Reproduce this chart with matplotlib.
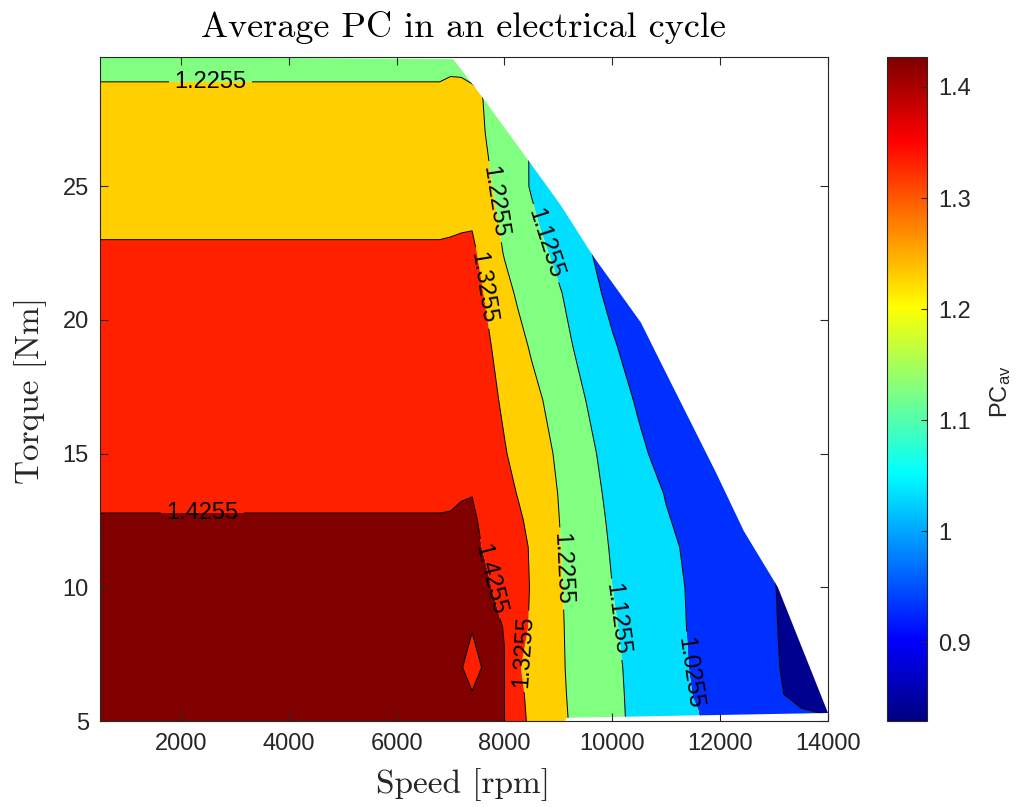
import numpy as np
import matplotlib
matplotlib.use("Agg")
import matplotlib.pyplot as plt
from matplotlib.colors import ListedColormap, Normalize
from matplotlib.patches import Polygon
from matplotlib.cm import ScalarMappable

plt.rcParams['font.family'] = ['Liberation Sans', 'DejaVu Sans']
plt.rcParams['mathtext.fontset'] = 'custom'
plt.rcParams['mathtext.rm'] = 'Liberation Sans'
plt.rcParams['mathtext.it'] = 'Liberation Sans:italic'

# ---- measured map: average PC over speed (columns) and torque (rows) ----
speeds = [500, 6800, 7000, 7200, 7400, 7600, 7800, 8000, 8250, 8500, 8750, 9000,
          9250, 9500, 10000, 10500, 11000, 11500, 12000, 13000, 13500, 14000, 14500]
torques = [5, 6, 7, 8.5, 10, 11.5, 12.5, 13.5, 15, 17, 19, 21, 22.5, 23.5, 25, 27,
           28.5, 29.5, 30.5]
pc_avg = [
    # T = 5
    [1.427, 1.427, 1.427, 1.427, 1.427, 1.427, 1.4262, 1.4257, 1.3576, 1.3063, 1.2762, 1.2462,
     1.218, 1.1939, 1.1457, 1.1046, 1.0687, 1.0327, 1.0129, 0.975, 0.945, 0.94, 0.935],
    # T = 6
    [1.427, 1.427, 1.427, 1.427, 1.427, 1.427, 1.4263, 1.4257, 1.3469, 1.3022, 1.272, 1.2418,
     1.2147, 1.1912, 1.1443, 1.1021, 1.063, 1.0243, 0.9953, 0.9371, 0.9047, 0.87, 0.86],
    # T = 7
    [1.427, 1.427, 1.427, 1.427, 1.415, 1.427, 1.4263, 1.4258, 1.3333, 1.2981, 1.2684, 1.2386,
     1.2124, 1.1891, 1.1423, 1.099, 1.0577, 1.0193, 0.9909, 0.9343, 0.8926, 0.845, 0.835],
    # T = 8.5
    [1.427, 1.427, 1.427, 1.427, 1.427, 1.427, 1.427, 1.4252, 1.3633, 1.3135, 1.2758, 1.2382,
     1.209, 1.1842, 1.1346, 1.0928, 1.0527, 1.0165, 0.9882, 0.9317, 0.8858, 0.835, 0.83],
    # T = 10
    [1.427, 1.427, 1.427, 1.427, 1.427, 1.427, 1.4251, 1.3915, 1.3564, 1.3204, 1.278, 1.2357,
     1.2054, 1.1788, 1.1258, 1.0876, 1.0495, 1.0148, 0.986, 0.9284, 0.89, 0.85, 0.83],
    # T = 11.5
    [1.427, 1.427, 1.427, 1.427, 1.427, 1.4253, 1.3999, 1.3773, 1.349, 1.3182, 1.2747, 1.2312,
     1.2006, 1.1719, 1.1182, 1.0799, 1.0416, 1.0093, 0.9814, 0.923, 0.89, 0.86, 0.84],
    # T = 12.5
    [1.427, 1.427, 1.427, 1.427, 1.427, 1.424, 1.391, 1.368, 1.3393, 1.3054, 1.2667, 1.228,
     1.197, 1.1665, 1.1122, 1.0715, 1.0308, 1.0018, 0.9745, 0.92, 0.89, 0.86, 0.84],
    # T = 13.5
    [1.4216, 1.4216, 1.4227, 1.4249, 1.4253, 1.4011, 1.377, 1.3526, 1.3221, 1.2893, 1.2566, 1.2238,
     1.1918, 1.1597, 1.1053, 1.0619, 1.0216, 0.997, 0.9728, 0.92, 0.89, 0.86, 0.84],
    # T = 15
    [1.407, 1.407, 1.407, 1.407, 1.407, 1.3817, 1.3565, 1.3312, 1.3017, 1.2727, 1.2437, 1.2134,
     1.181, 1.1486, 1.093, 1.0426, 0.992, 0.975, 0.955, 0.915, 0.89, 0.86, 0.84],
    # T = 17
    [1.388, 1.388, 1.388, 1.388, 1.388, 1.3626, 1.3372, 1.3123, 1.2819, 1.2514, 1.2208, 1.1893,
     1.1578, 1.1263, 1.0696, 1.013, 0.995, 0.9775, 0.956, 0.91, 0.89, 0.86, 0.84],
    # T = 19
    [1.369, 1.369, 1.369, 1.369, 1.369, 1.3452, 1.3204, 1.2902, 1.2524, 1.2169, 1.1873, 1.1576,
     1.1279, 1.0976, 1.037, 0.9765, 0.96, 0.95, 0.945, 0.91, 0.89, 0.86, 0.84],
    # T = 21
    [1.350, 1.350, 1.350, 1.350, 1.350, 1.3271, 1.2903, 1.2525, 1.2141, 1.1876, 1.161, 1.1345,
     1.1024, 1.0675, 0.9975, 0.985, 0.972, 0.96, 0.945, 0.91, 0.89, 0.86, 0.84],
    # T = 22.5
    [1.3355, 1.3355, 1.3405, 1.348, 1.3426, 1.3046, 1.2588, 1.2203, 1.1916, 1.1629, 1.1341, 1.1036,
     1.0724, 1.0411, 0.9787, 0.97, 0.96, 0.95, 0.94, 0.91, 0.89, 0.86, 0.84],
    # T = 23.5
    [1.3155, 1.3155, 1.3155, 1.318, 1.322, 1.2815, 1.2409, 1.2094, 1.1769, 1.1444, 1.1132, 1.084,
     1.0547, 1.025, 1.005, 0.985, 0.968, 0.95, 0.94, 0.91, 0.89, 0.86, 0.84],
    # T = 25
    [1.28, 1.28, 1.28, 1.28, 1.28, 1.2509, 1.2216, 1.1916, 1.154, 1.1188, 1.0911, 1.063,
     1.04, 1.02, 1.0, 0.98, 0.965, 0.95, 0.94, 0.91, 0.89, 0.86, 0.84],
    # T = 27
    [1.255, 1.255, 1.255, 1.255, 1.255, 1.2309, 1.2055, 1.1797, 1.1474, 1.12, 1.09, 1.06,
     1.04, 1.02, 1.0, 0.98, 0.965, 0.95, 0.94, 0.91, 0.89, 0.86, 0.84],
    # T = 28.5
    [1.235, 1.235, 1.2458, 1.2458, 1.238, 1.2245, 1.205, 1.18, 1.15, 1.12, 1.09, 1.06,
     1.04, 1.02, 1.0, 0.98, 0.965, 0.95, 0.94, 0.91, 0.89, 0.86, 0.84],
    # T = 29.5
    [1.2113, 1.2113, 1.212, 1.21, 1.20, 1.19, 1.18, 1.17, 1.145, 1.115, 1.085, 1.055,
     1.035, 1.015, 0.995, 0.975, 0.96, 0.945, 0.935, 0.905, 0.885, 0.855, 0.835],
    # T = 30.5
    [1.19, 1.19, 1.19, 1.185, 1.18, 1.17, 1.16, 1.15, 1.14, 1.11, 1.08, 1.05,
     1.03, 1.01, 0.99, 0.97, 0.955, 0.94, 0.93, 0.90, 0.88, 0.85, 0.83],
]

contour_levels = [0.9255, 1.0255, 1.1255, 1.2255, 1.3255, 1.4255]
pc_min, pc_max = 0.829, 1.427

# operating envelope (maximum torque vs speed) and lower edge of the map
envelope_speed = [500, 7050, 7600, 8430, 9040, 9640, 10530, 10900, 11920, 12440, 13070, 14000]
envelope_torque = [29.83, 29.75, 28.3, 26.0, 24.3, 22.4, 19.9, 18.4, 14.3, 12.1, 10.0, 5.3]
floor_speed = [9150, 9120, 500]
floor_torque = [5.12, 5.0, 5.0]

# where the contour labels sit
label_speed = [2550, 2400, 7760, 8670, 7612, 7705, 8355, 9025, 10080, 11400]
label_torque = [28.9, 12.78, 24.4, 22.8, 21.2, 10.3, 7.6, 10.7, 8.8, 6.8]


def matlab_jet(n):
    q = n / 4.0
    k = np.arange(1, n + 1)
    r = np.clip(np.minimum((k - 1.5 * q) / q, (4.5 * q - k) / q), 0, 1)
    g = np.clip(np.minimum((k - 0.5 * q) / q, (3.5 * q - k) / q), 0, 1)
    b = np.clip(np.minimum((k + 0.5 * q) / q, (2.5 * q - k) / q), 0, 1)
    return np.column_stack([r, g, b])


jet64 = matlab_jet(64)
cmap_bar = ListedColormap(matlab_jet(256))


def band_color(value):
    idx = int(np.floor((value - pc_min) / (pc_max - pc_min) * 64))
    return jet64[min(max(idx, 0), 63)]


S, T = np.meshgrid(np.array(speeds, float), np.array(torques, float))
Z = np.array(pc_avg, float)

fig = plt.figure(figsize=(10.18, 8.07), dpi=100)
W, H = 1018.0, 807.0
ax = fig.add_axes([100 / W, 1 - 721 / H, 728 / W, 664 / H])

fill_levels = [0.5] + contour_levels + [2.0]
fill_colors = [band_color(pc_min)] + [band_color(v) for v in contour_levels]
cf = ax.contourf(S, T, Z, levels=fill_levels, colors=fill_colors, antialiased=True)
cl = ax.contour(S, T, Z, levels=contour_levels, colors='k', linewidths=0.7)

region = Polygon(np.column_stack([envelope_speed + floor_speed,
                                  envelope_torque + floor_torque]),
                 closed=True, transform=ax.transData, facecolor='none', edgecolor='none')
ax.add_patch(region)
cf.set_clip_path(region)
cl.set_clip_path(region)

ax.clabel(cl, fmt='%.4f', fontsize=17, inline=True,
          inline_spacing=4, manual=list(zip(label_speed, label_torque)))

ax.set_xlim(500, 14000)
ax.set_ylim(5, 29.83)
ax.set_xticks([2000, 4000, 6000, 8000, 10000, 12000, 14000])
ax.set_yticks([5, 10, 15, 20, 25])
frame = '#262626'
ax.tick_params(direction='in', top=True, right=True, length=6, width=0.8,
               labelsize=17, colors=frame)
ax.tick_params(axis='x', pad=9)
ax.tick_params(axis='y', pad=8)
for sp in ax.spines.values():
    sp.set_color(frame)
    sp.set_linewidth(0.8)

cax = fig.add_axes([887 / W, 1 - 721 / H, 40 / W, 664 / H])
sm = ScalarMappable(norm=Normalize(pc_min, pc_max), cmap=cmap_bar)
cb = fig.colorbar(sm, cax=cax)
cb.set_ticks([0.9, 1.0, 1.1, 1.2, 1.3, 1.4])
cb.set_ticklabels(['0.9', '1', '1.1', '1.2', '1.3', '1.4'])
cax.tick_params(direction='in', length=4, width=0.8, labelsize=17, colors=frame, pad=8)
cb.outline.set_edgecolor(frame)
cb.outline.set_linewidth(0.8)

fig.text(463 / W, 1 - 28 / H, 'Average PC in an electrical cycle', fontfamily='cmr10',
         fontsize=26, ha='center', va='center', color='black')
fig.text(463 / W, 1 - 785 / H, 'Speed [rpm]', fontfamily='cmr10', fontsize=24,
         ha='center', va='center', color=frame)
fig.text(31 / W, 1 - 390 / H, 'Torque [Nm]', fontfamily='cmr10', fontsize=24,
         ha='center', va='center', rotation=90, color=frame)
fig.text(1001 / W, 1 - 392 / H, r'PC$_{\mathrm{av}}$', fontsize=17,
         ha='center', va='center', rotation=90, color=frame)

fig.savefig('out.png', dpi=100)
